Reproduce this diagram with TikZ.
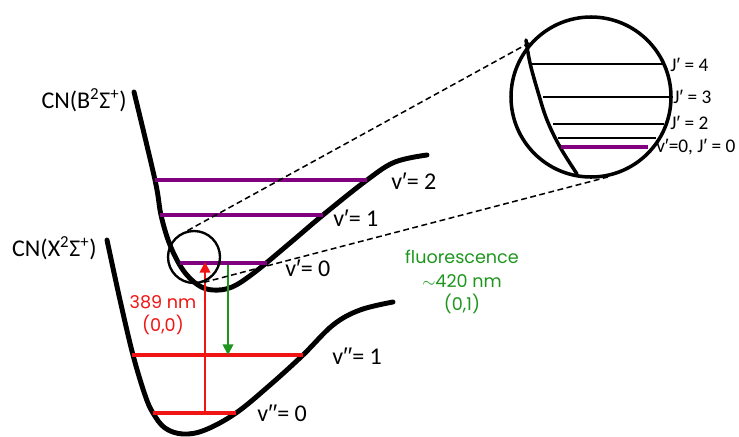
\documentclass[tikz,border=0pt]{standalone}
\usepackage{fontspec}
\setmainfont{Poppins}
\newfontfamily\lblfont{Carlito}
\newfontfamily\jfont{Liberation Sans}
\usetikzlibrary{arrows.meta}
\definecolor{levpurple}{RGB}{128,0,128}
\definecolor{levred}{RGB}{240,20,20}
\definecolor{fluogreen}{RGB}{30,150,30}
\newcommand{\prm}{{\jfont ′}}

\begin{document}
\begin{tikzpicture}[x=0.03cm,y=-0.03cm,
    curve/.style={line width=4.2pt, line cap=round, line join=round},
    vlevel/.style={line width=3.2pt, levpurple},
    xlevel/.style={line width=3.2pt, levred},
    jlevel/.style={line width=1.4pt},
    lbl/.style={font=\lblfont\fontsize{20.5}{24}\selectfont, inner sep=1pt},
    trlbl/.style={font=\fontsize{15}{20}\selectfont, inner sep=1pt, align=center},
    jlbl/.style={font=\lblfont\fontsize{16.5}{19}\selectfont, anchor=west, inner sep=1pt},
    zoomline/.style={line width=1.3pt, dash pattern=on 5pt off 3pt}]
    \useasboundingbox (0,0) rectangle (739,436);

    % Potensial B (atas)
    \draw[curve] plot[smooth, tension=0.6] coordinates {(134,92) (155,180) (161,215) (170,245) (183,270)
        (198,285) (213,290) (232,287) (255,272) (290,243) (323,215) (367,180) (395,162) (427,155)};
    % Potensial X (bawah)
    \draw[curve] plot[smooth, tension=0.6] coordinates {(107,240) (120,300) (133,355) (145,395) (153,413)
        (165,428) (183,434) (205,430) (236,413) (270,385) (303,355) (333,325) (360,310) (393,302)};

    % Level vibrasi
    \draw[vlevel] (155,180) -- (367,180);
    \draw[vlevel] (160,215) -- (323,215);
    \draw[vlevel] (180,263) -- (267,263);
    \draw[xlevel] (132,355) -- (303,355);
    \draw[xlevel] (153,413) -- (236,413);

    % Transisi
    \coordinate (x0) at (205,413);
    \coordinate (b0) at (205,262);
    \coordinate (b0f) at (228,265);
    \coordinate (x1) at (228,355);
    \draw[levred, line width=1.5pt, -{Triangle[length=9pt,width=9pt]}] (x0) -- (b0);
    \draw[fluogreen, line width=1.5pt, -{Triangle[length=9pt,width=9pt]}] (b0f) -- (x1);

    % Label
    \node[lbl, anchor=east] (lblB) at (128,100) {CN(B\textsuperscript{2}Σ\textsuperscript{+})};
    \node[lbl, anchor=east] (lblX) at (98,248) {CN(X\textsuperscript{2}Σ\textsuperscript{+})};
    \node[lbl, anchor=west] (v2) at (390,181) {v\prm= 2};
    \node[lbl, anchor=west] (v1) at (332,218) {v\prm= 1};
    \node[lbl, anchor=west] (v0) at (284,268) {v\prm= 0};
    \node[lbl, anchor=west] (vv1) at (331,356) {v\prm\prm= 1};
    \node[lbl, anchor=west] (vv0) at (256,413) {v\prm\prm= 0};
    \node[trlbl, levred] (abs) at (163,315) {389 nm\\(0,0)};
    \node[trlbl, fluogreen] (fluo) at (462,282) {fluorescence\\$\sim$420 nm\\(0,1)};

    % Zoom rotasi
    \node[circle, draw, line width=2pt, minimum size=1.56cm, inner sep=0pt] (zsmall) at (194,257) {};
    \draw[curve, line width=3pt] plot[smooth, tension=0.6] coordinates {(526,40) (530,63) (538,92) (547,120) (560,147) (577,174)};
    \draw[jlevel] (530,64) -- (665,64);
    \draw[jlevel] (543,97) -- (672,97);
    \draw[jlevel] (553,124) -- (664,124);
    \draw[jlevel] (558,138) -- (656,138);
    \draw[vlevel] (561,147) -- (648,147);
    \node[circle, draw, line width=3pt, minimum size=4.8cm, inner sep=0pt] (zbig) at (591,97) {};
    \draw[zoomline] (zsmall.104) -- (zbig.138);
    \draw[zoomline] (zsmall.-69) -- (zbig.-78);
    \node[jlbl] (j4) at (669,65) {J\prm\ = 4};
    \node[jlbl] (j3) at (672,97) {J\prm\ = 3};
    \node[jlbl] (j2) at (669,123) {J\prm\ = 2};
    \node[jlbl] (j0) at (655,147) {v\prm=0, J\prm\ = 0};
\end{tikzpicture}
\end{document}
